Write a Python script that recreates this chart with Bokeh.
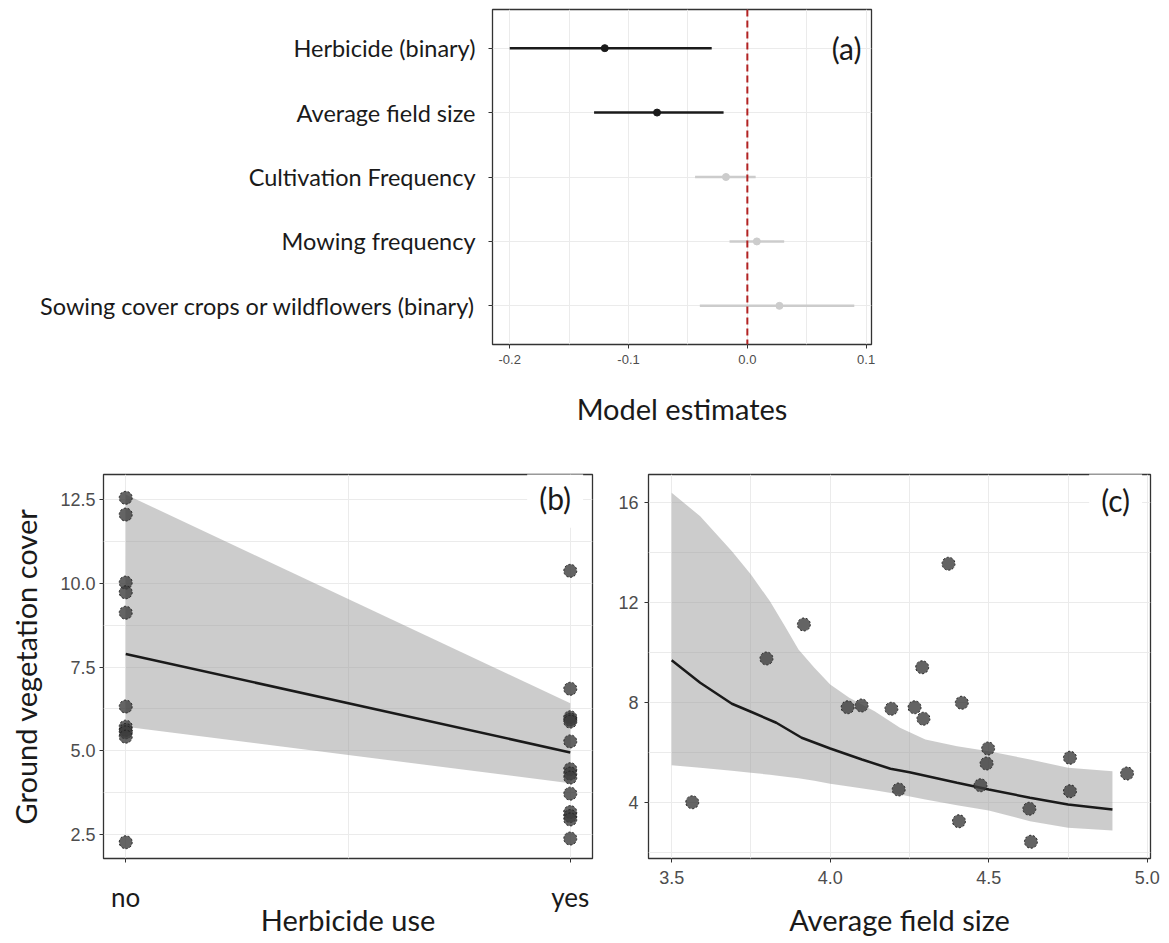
from bokeh.plotting import figure
from bokeh.layouts import column, row
from bokeh.models import (Range1d, FactorRange, FixedTicker, PrintfTickFormatter,
                          Span, Label)
from bokeh.embed import file_html
from bokeh.resources import INLINE
from bokeh.core.properties import value

# ---- (a) model coefficients ----
terms = ["Herbicide (binary)", "Average field size", "Cultivation Frequency",
         "Mowing frequency", "Sowing cover crops or wildflowers (binary)"]
estimate = [-0.120, -0.076, -0.018, 0.008, 0.027]
ci_low = [-0.200, -0.129, -0.044, -0.015, -0.040]
ci_high = [-0.030, -0.020, 0.007, 0.031, 0.090]
significant = [True, True, False, False, False]
coef_ticks = [-0.2, -0.1, 0.0, 0.1]

# ---- (b) ground vegetation cover by herbicide use ----
herbicide_levels = ["no", "yes"]
cover_no = [12.55, 12.05, 10.02, 9.73, 9.12, 6.32, 5.72, 5.62, 5.55, 5.42, 2.27]
cover_yes = [10.37, 6.85, 6.00, 5.93, 5.87, 5.28, 4.45, 4.32, 4.20, 3.72,
             3.17, 3.05, 2.95, 2.38]
herb_fit = [7.89, 4.95]
herb_fit_low = [5.72, 4.03]
herb_fit_high = [12.65, 6.42]
cover_ticks_b = [2.5, 5.0, 7.5, 10.0, 12.5]

# ---- (c) ground vegetation cover by average field size ----
field_size = [3.565, 3.799, 3.917, 4.055, 4.099, 4.193, 4.216, 4.266, 4.290,
              4.294, 4.373, 4.406, 4.415, 4.474, 4.498, 4.493, 4.628, 4.633,
              4.756, 4.756, 4.936]
field_cover = [4.02, 9.77, 11.13, 7.82, 7.89, 7.76, 4.53, 7.82, 9.42, 7.36,
               13.56, 3.26, 8.00, 4.70, 6.17, 5.57, 3.76, 2.44, 5.80, 4.46, 5.17]
curve_x = [3.50, 3.59, 3.69, 3.75, 3.83, 3.91, 4.00, 4.10, 4.19, 4.25, 4.40,
           4.50, 4.63, 4.75, 4.89]
curve_y = [9.70, 8.80, 7.96, 7.64, 7.20, 6.60, 6.17, 5.73, 5.36, 5.22, 4.80,
           4.53, 4.20, 3.93, 3.73]
band_x = [3.50, 3.59, 3.69, 3.75, 3.81, 3.86, 3.90, 3.95, 4.00, 4.06, 4.14,
          4.22, 4.30, 4.40, 4.50, 4.63, 4.75, 4.89]
band_high = [16.40, 15.46, 14.06, 13.13, 12.06, 11.00, 10.13, 9.40, 8.73,
             8.20, 7.66, 7.00, 6.53, 6.26, 6.06, 5.73, 5.40, 5.26]
band_low = [5.50, 5.40, 5.28, 5.20, 5.12, 5.04, 4.98, 4.88, 4.76, 4.65, 4.50,
            4.33, 4.13, 3.90, 3.69, 3.26, 3.00, 2.89]
size_ticks = [3.5, 4.0, 4.5, 5.0]
cover_ticks_c = [4, 8, 12, 16]

LABEL_FONT = "Lato"
TICK_FONT = "Liberation Sans"
GRID = "#ebebeb"
FRAME = "#333333"
DARK = "#1a1a1a"
LIGHT = "#cccccc"
TITLE_SIZE = "29px"
PANEL_TAG_SIZE = "30px"


def style(p):
    p.outline_line_color = FRAME
    p.outline_line_width = 1.3
    p.background_fill_color = "white"
    p.border_fill_color = "white"
    p.grid.grid_line_color = GRID
    p.grid.grid_line_width = 1
    for ax in p.axis:
        ax.axis_line_color = None
        ax.major_tick_line_color = FRAME
        ax.major_tick_out = 4
        ax.major_tick_in = 0
        ax.minor_tick_line_color = None
        ax.major_label_text_color = "#4d4d4d"
        ax.major_label_text_font = TICK_FONT
        ax.major_label_text_font_size = "18px"
        ax.axis_label_text_font = LABEL_FONT
        ax.axis_label_text_font_size = TITLE_SIZE
        ax.axis_label_text_font_style = "normal"
        ax.axis_label_text_color = DARK


# ---------- panel (a) ----------
pa = figure(width=885, height=470, output_backend="svg", toolbar_location=None,
            x_range=Range1d(-0.2145, 0.1045),
            y_range=FactorRange(factors=list(reversed(terms)),
                                range_padding=0.1, range_padding_units="absolute"),
            min_border_left=492, min_border_right=14,
            min_border_top=9, min_border_bottom=126)
style(pa)
pa.xaxis.ticker = FixedTicker(ticks=coef_ticks)
pa.xaxis.formatter = PrintfTickFormatter(format="%.1f")
pa.xaxis.major_label_text_font_size = "13px"
pa.xaxis.major_label_standoff = 6
pa.xaxis.axis_label = "Model estimates"
pa.xaxis.axis_label_standoff = 24
pa.xgrid.ticker = FixedTicker(ticks=[-0.2, -0.15, -0.1, -0.05, 0.0, 0.05, 0.1])
pa.yaxis.major_label_text_font = LABEL_FONT
pa.yaxis.major_label_text_font_size = "23.5px"
pa.yaxis.major_label_text_color = DARK
pa.yaxis.major_label_standoff = 13

coef_colors = [DARK if s else LIGHT for s in significant]
pa.add_layout(Span(location=0, dimension="height", line_color="#b22222",
                   line_dash="7 4", line_width=2))
pa.segment(x0=ci_low, x1=ci_high, y0=terms, y1=terms,
           line_color=coef_colors, line_width=2.5)
pa.scatter(x=estimate, y=terms, size=7, fill_color=coef_colors,
           line_color=coef_colors)
pa.text(x=[0.0835], y=[terms[0]], text=["(a)"], text_align="center",
        text_baseline="middle", text_font=value(LABEL_FONT),
        text_font_size=PANEL_TAG_SIZE, text_color=DARK)

# ---------- panel (b) ----------
pb = figure(width=615, height=473, output_backend="svg", toolbar_location=None,
            x_range=Range1d(-0.05, 1.05), y_range=Range1d(1.784, 13.246),
            min_border_left=103, min_border_right=23,
            min_border_top=4, min_border_bottom=85)
style(pb)
level_pos = list(range(len(herbicide_levels)))
pb.xaxis.ticker = FixedTicker(ticks=level_pos)
pb.xaxis.major_label_overrides = {i: lv for i, lv in zip(level_pos, herbicide_levels)}
pb.xaxis.major_label_text_font = LABEL_FONT
pb.xaxis.major_label_text_font_size = "26px"
pb.xaxis.major_label_text_color = DARK
pb.xaxis.major_label_standoff = 18
pb.xaxis.axis_label = "Herbicide use"
pb.xaxis.axis_label_standoff = -14
pb.xgrid.ticker = FixedTicker(ticks=[0, 0.5, 1])
pb.yaxis.ticker = FixedTicker(ticks=cover_ticks_b)
pb.yaxis.formatter = PrintfTickFormatter(format="%.1f")
pb.yaxis.major_label_standoff = 4
pb.yaxis.axis_label = "Ground vegetation cover"
pb.yaxis.axis_label_standoff = 14
pb.ygrid.ticker = FixedTicker(ticks=[2.5, 3.75, 5.0, 6.25, 7.5, 8.75, 10.0, 11.25, 12.5])

pb.varea(x=level_pos, y1=herb_fit_low, y2=herb_fit_high,
         fill_color="#999999", fill_alpha=0.5)
pb.line(x=level_pos, y=herb_fit, line_color=DARK, line_width=2.5)
herb_x = [level_pos[0]] * len(cover_no) + [level_pos[1]] * len(cover_yes)
pb.scatter(x=herb_x, y=cover_no + cover_yes, size=13, fill_color="#3d3d3d",
           fill_alpha=0.8, line_color="#222222", line_width=1, line_dash="2 2")
pb.add_layout(Label(x=0.966, y=12.55, text="(b)", text_align="center",
                    text_baseline="middle", text_font=LABEL_FONT,
                    text_font_size=PANEL_TAG_SIZE, text_color=DARK,
                    background_fill_color="white", padding=12))

# ---------- panel (c) ----------
pc = figure(width=554, height=473, output_backend="svg", toolbar_location=None,
            x_range=Range1d(3.427, 5.01), y_range=Range1d(1.77, 17.13),
            min_border_left=30, min_border_right=19,
            min_border_top=4, min_border_bottom=85)
style(pc)
pc.xaxis.ticker = FixedTicker(ticks=size_ticks)
pc.xaxis.formatter = PrintfTickFormatter(format="%.1f")
pc.xaxis.major_label_standoff = 8
pc.xaxis.axis_label = "Average field size"
pc.xaxis.axis_label_standoff = 15
pc.xgrid.ticker = FixedTicker(ticks=[3.5, 3.75, 4.0, 4.25, 4.5, 4.75, 5.0])
pc.yaxis.ticker = FixedTicker(ticks=cover_ticks_c)
pc.yaxis.major_label_standoff = 6
pc.ygrid.ticker = FixedTicker(ticks=[2, 4, 6, 8, 10, 12, 14, 16])

pc.varea(x=band_x, y1=band_low, y2=band_high, fill_color="#999999", fill_alpha=0.5)
pc.line(x=curve_x, y=curve_y, line_color=DARK, line_width=2.5)
pc.scatter(x=field_size, y=field_cover, size=13, fill_color="#3d3d3d",
           fill_alpha=0.8, line_color="#222222", line_width=1, line_dash="2 2")
pc.add_layout(Label(x=4.9, y=16.1, text="(c)", text_align="center",
                    text_baseline="middle", text_font=LABEL_FONT,
                    text_font_size=PANEL_TAG_SIZE, text_color=DARK,
                    background_fill_color="white", padding=12))

layout = column(pa, row(pb, pc))
open("out.html", "w").write(file_html(layout, INLINE))
